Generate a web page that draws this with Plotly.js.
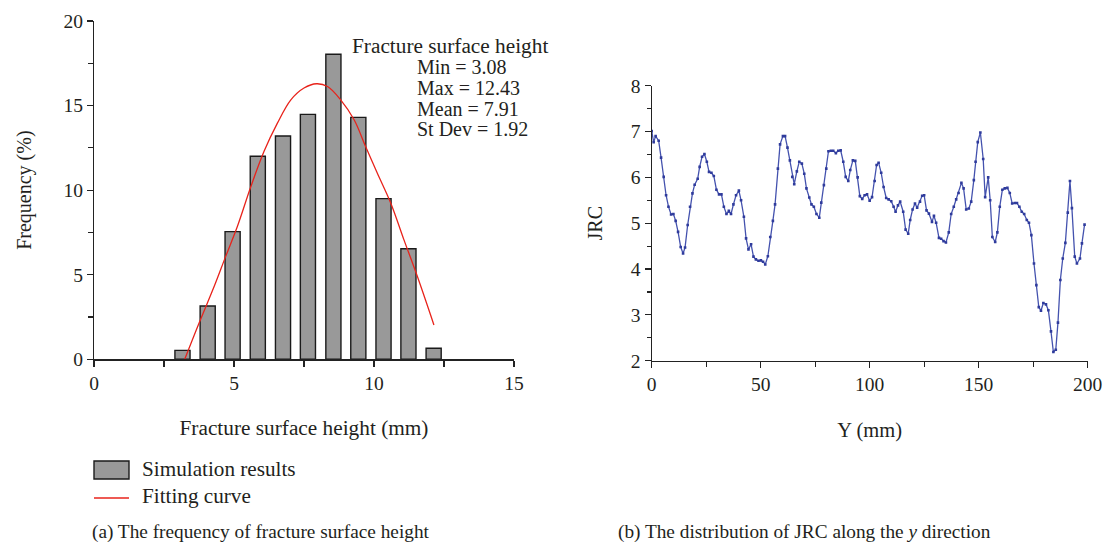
<!DOCTYPE html>
<html>
<head>
<meta charset="utf-8">
<script src="https://cdn.plot.ly/plotly-3.0.1.min.js"></script>
<style>html,body{margin:0;padding:0;background:#fff;}#chart{width:1108px;height:553px;}</style>
</head>
<body>
<div id="chart"></div>
<script>
// ---- Data: (a) histogram of fracture surface height ----
const binCenters = [3.16, 4.06, 4.95, 5.85, 6.75, 7.64, 8.55, 9.44, 10.34, 11.23, 12.13];
const frequency  = [0.53, 3.15, 7.55, 12.0, 13.2, 14.48, 18.03, 14.3, 9.5, 6.54, 0.65];

// fitting curve
const fitX = [3.24, 3.75, 4.29, 4.70, 5.12, 5.6, 6.07, 6.55, 7.03, 7.5, 7.95, 8.34, 8.81, 9.29, 9.7, 10.12, 10.6, 11.07, 11.55, 12.14];
const fitY = [0, 2.13, 4.3, 6.07, 7.85, 10.2, 12.28, 13.96, 15.34, 16.04, 16.29, 16.13, 15.34, 14.16, 12.58, 11.0, 9.23, 7.06, 4.89, 2.03];

const statLines = ["Min = 3.08", "Max = 12.43", "Mean = 7.91", "St Dev = 1.92"];

// ---- Data: (b) JRC along the y direction ----
const jrcPos = [0,0.9,1.8,3.2,4.3,5.5,6.6,7.7,8.9,9.95,11.0,12.1,13.3,14.4,15.3,16.5,17.6,18.7,19.7,21.1,22.0,23.1,24.2,25.3,26.3,27.4,28.5,29.7,30.9,32.0,33.1,34.3,35.4,36.4,37.5,38.7,40.0,41.0,42.3,43.3,44.4,45.6,46.7,47.8,49.0,50.1,51.1,52.1,53.3,54.4,55.6,56.6,57.9,58.9,60.2,61.2,62.3,63.4,64.5,65.4,66.6,67.7,68.9,70.0,71.0,72.3,73.3,74.4,75.6,76.9,77.8,79.0,80.1,81.1,82.2,83.3,84.5,85.6,86.7,87.9,89.0,90.2,91.1,92.3,93.4,94.5,95.5,96.6,97.7,98.8,100,101.1,102.3,103.2,104.1,105.3,106.4,107.6,108.7,109.9,111.0,111.9,113.0,114.0,115.4,116.5,117.7,118.6,119.7,120.8,121.8,123.1,124.1,125.0,126.1,127.2,128.6,129.5,130.5,131.8,132.8,133.9,135.0,136.3,137.4,138.6,139.7,140.8,142.1,143.1,144.3,145.5,146.6,147.8,148.6,149.6,150.8,152.1,153.0,154.4,155.3,156.3,157.6,158.6,159.7,160.9,162.0,163.2,164.3,165.4,166.6,167.6,168.7,169.8,170.9,172.1,173.1,174.2,175.4,176.5,177.6,178.6,179.7,180.9,182.0,183.2,184.3,185.4,186.4,187.5,188.6,189.8,190.9,191.9,192.8,194.1,195.1,196.5,197.4,198.6];
const jrcValue = [7.01,6.77,6.9,6.8,6.43,6.01,5.61,5.36,5.19,5.2,5.05,4.81,4.48,4.34,4.47,4.96,5.36,5.65,5.84,5.97,6.23,6.45,6.51,6.34,6.12,6.1,6.03,5.73,5.63,5.63,5.36,5.2,5.27,5.2,5.41,5.61,5.71,5.5,5.14,4.67,4.43,4.54,4.27,4.21,4.18,4.19,4.16,4.1,4.28,4.7,5.05,5.41,6.19,6.72,6.9,6.9,6.65,6.37,6.01,5.85,6.13,6.34,6.3,6.08,5.76,5.56,5.41,5.36,5.2,5.12,5.45,5.83,6.19,6.57,6.58,6.58,6.53,6.58,6.59,6.34,6.01,5.92,6.16,6.37,6.36,6.0,5.59,5.53,5.61,5.63,5.49,5.57,5.92,6.27,6.32,6.1,5.79,5.55,5.52,5.48,5.36,5.25,5.39,5.47,5.25,4.86,4.77,5.07,5.3,5.43,5.34,5.47,5.6,5.61,5.28,5.21,5.03,5.16,5.01,4.68,4.66,4.61,4.58,4.8,5.2,5.36,5.52,5.66,5.88,5.76,5.3,5.32,5.47,5.94,6.34,6.77,6.98,6.4,5.57,6.0,5.5,4.7,4.59,4.8,5.36,5.73,5.76,5.77,5.66,5.43,5.44,5.44,5.36,5.25,5.2,5.07,5.01,4.74,4.12,3.65,3.17,3.09,3.26,3.23,3.1,2.64,2.19,2.24,2.83,3.76,4.23,4.57,5.23,5.92,5.33,4.27,4.12,4.23,4.56,4.97];

const W = 1108, H = 553;
const px = x => x / W;
const py = y => 1 - y / H;
const FONT = "Liberation Serif, Times New Roman, serif";
const TXT = "#231f20";

const traces = [
  {type: "bar", x: binCenters, y: frequency, width: 0.54, xaxis: "x", yaxis: "y",
   marker: {color: "#999999", line: {color: "#1a1a1a", width: 1.4}}, name: "Simulation results", hoverinfo: "x+y"},
  {type: "scatter", mode: "lines", x: fitX, y: fitY, xaxis: "x", yaxis: "y",
   line: {color: "#e8231b", width: 1.3, shape: "spline"}, name: "Fitting curve"},
  {type: "scatter", mode: "lines+markers", x: jrcPos, y: jrcValue, xaxis: "x2", yaxis: "y2",
   line: {color: "#4452ae", width: 1.3}, marker: {color: "#2f3b9c", size: 2.6, symbol: "square"}, name: "JRC"}
];

const axisCommon = {
  showgrid: false, zeroline: false, showline: true, linecolor: "#222", linewidth: 1.2,
  ticks: "outside", ticklen: 6, tickcolor: "#222", tickwidth: 1.2,
  tickfont: {family: FONT, size: 19.5, color: TXT}, fixedrange: true
};

const layout = {
  width: W, height: H, margin: {l: 0, r: 0, t: 0, b: 0},
  paper_bgcolor: "#fff", plot_bgcolor: "#fff", showlegend: false,
  font: {family: FONT, color: TXT},
  xaxis: Object.assign({}, axisCommon, {
    domain: [px(94), px(514)], range: [0, 15], tickvals: [0, 5, 10, 15], anchor: "y",
    minor: {tickvals: [2.5, 7.5, 12.5], ticklen: 6, tickcolor: "#222", ticks: "outside"},
    title: {text: "Fracture surface height (mm)", font: {family: FONT, size: 21.3, color: TXT}, standoff: 27}
  }),
  yaxis: Object.assign({}, axisCommon, {
    domain: [py(359.3), py(21)], range: [0, 20], tickvals: [0, 5, 10, 15, 20], anchor: "x",
    minor: {tickvals: [2.5, 7.5, 12.5, 17.5], ticklen: 5, tickcolor: "#222", ticks: "outside"},
    title: {text: "Frequency (%)", font: {family: FONT, size: 20, color: TXT}, standoff: 26}
  }),
  xaxis2: Object.assign({}, axisCommon, {
    domain: [px(651.7), px(1087.6)], range: [0, 200], tickvals: [0, 50, 100, 150, 200], anchor: "y2",
    minor: {tickvals: [25, 75, 125, 175], ticklen: 5, tickcolor: "#222", ticks: "outside"},
    title: {text: "Y (mm)", font: {family: FONT, size: 20.5, color: TXT}, standoff: 28}
  }),
  yaxis2: Object.assign({}, axisCommon, {
    domain: [py(360.7), py(85.7)], range: [2, 8], tickvals: [2, 3, 4, 5, 6, 7, 8], anchor: "x2",
    minor: {tickvals: [2.5, 3.5, 4.5, 5.5, 6.5, 7.5], ticklen: 4, tickcolor: "#222", ticks: "outside"},
    title: {text: "JRC", font: {family: FONT, size: 20, color: TXT}, standoff: 22}
  }),
  shapes: [
    {type: "rect", xref: "paper", yref: "paper", x0: px(94), x1: px(129), y0: py(479), y1: py(461),
     fillcolor: "#999999", line: {color: "#1a1a1a", width: 1.4}},
    {type: "line", xref: "paper", yref: "paper", x0: px(94), x1: px(129), y0: py(498), y1: py(498),
     line: {color: "#e8231b", width: 1.4}}
  ],
  annotations: []
};

const ann = (text, x, y, anchor, size) => ({
  text: text, xref: "paper", yref: "paper", x: px(x), y: py(y), xanchor: anchor || "left", yanchor: "middle",
  showarrow: false, font: {family: FONT, size: size || 20, color: TXT}
});

layout.annotations.push(ann("Fracture surface height", 350, 46, "left", 21.3));
statLines.forEach((t, i) => layout.annotations.push(ann(t, 415, 67 + i * 20.8)));
layout.annotations.push(ann("Simulation results", 140, 469, "left", 21.2));
layout.annotations.push(ann("Fitting curve", 140, 496, "left", 21.2));
layout.annotations.push(ann("(a) The frequency of fracture surface height", 90, 532, "left", 19.3));
layout.annotations.push(ann("(b) The distribution of JRC along the <i>y</i> direction", 616, 532, "left", 19.3));

Plotly.newPlot("chart", traces, layout, {displayModeBar: false, staticPlot: true});
</script>
</body>
</html>
